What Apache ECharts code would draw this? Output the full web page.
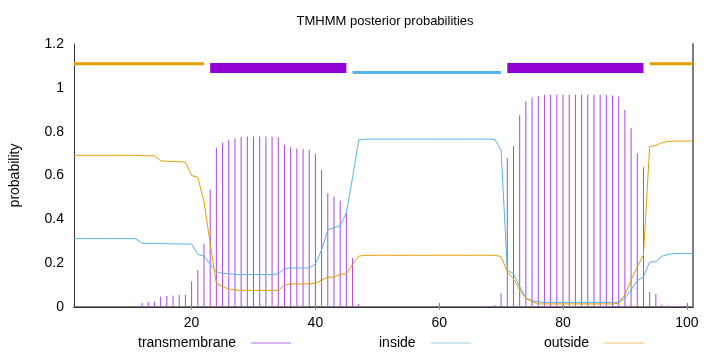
<!DOCTYPE html>
<html>
<head>
    <meta charset="UTF-8">
    <title>TMHMM posterior probabilities</title>
    <style>
        html, body {
            margin: 0;
            padding: 0;
            background: #fff;
        }
        #chart-container {
            width: 720px;
            height: 352px;
        }
    </style>
</head>
<body>
<div id="chart-container"></div>

<script src="https://cdn.jsdelivr.net/npm/echarts@6.0.0/dist/echarts.min.js"></script>
<script>
    // residue positions 1..101
    const positions = [];
    for (let i = 1; i <= 101; i++) positions.push(i);

    // posterior probability per residue
    const transmembrane = [
        0, 0, 0, 0, 0, 0, 0, 0, 0, 0.002,
        0.004, 0.018, 0.023, 0.024, 0.047, 0.05, 0.052, 0.055, 0.056, 0.117,
        0.169, 0.289, 0.537, 0.726, 0.75, 0.763, 0.77, 0.776, 0.778, 0.778,
        0.778, 0.778, 0.778, 0.773, 0.738, 0.729, 0.723, 0.721, 0.718, 0.699,
        0.626, 0.519, 0.504, 0.485, 0.428, 0.222, 0.014, 0, 0, 0,
        0, 0, 0, 0, 0, 0, 0, 0, 0, 0,
        0, 0, 0, 0, 0, 0, 0.003, 0.005, 0.009, 0.063,
        0.679, 0.735, 0.875, 0.939, 0.956, 0.963, 0.968, 0.968, 0.968, 0.968,
        0.968, 0.968, 0.968, 0.968, 0.968, 0.968, 0.968, 0.965, 0.96, 0.9,
        0.816, 0.702, 0.638, 0.068, 0.059, 0.01, 0.007, 0.005, 0.004, 0.003,
        0.002
    ];
    const inside = [
        0.312, 0.312, 0.312, 0.312, 0.312, 0.312, 0.312, 0.312, 0.312, 0.312,
        0.311, 0.291, 0.29, 0.29, 0.289, 0.289, 0.288, 0.288, 0.287, 0.287,
        0.241, 0.232, 0.196, 0.161, 0.154, 0.152, 0.149, 0.148, 0.148, 0.148,
        0.148, 0.148, 0.148, 0.152, 0.174, 0.178, 0.178, 0.178, 0.178, 0.196,
        0.26, 0.352, 0.362, 0.37, 0.43, 0.59, 0.762, 0.766, 0.766, 0.766,
        0.766, 0.766, 0.766, 0.766, 0.766, 0.766, 0.766, 0.766, 0.766, 0.766,
        0.766, 0.766, 0.766, 0.766, 0.766, 0.766, 0.766, 0.766, 0.764, 0.714,
        0.169, 0.151, 0.093, 0.04, 0.029, 0.023, 0.021, 0.021, 0.021, 0.021,
        0.021, 0.021, 0.021, 0.021, 0.021, 0.021, 0.021, 0.021, 0.022, 0.04,
        0.078, 0.12, 0.138, 0.205, 0.207, 0.232, 0.24, 0.244, 0.244, 0.244,
        0.244
    ];
    const outside = [
        0.692, 0.692, 0.692, 0.692, 0.692, 0.692, 0.692, 0.692, 0.692, 0.692,
        0.692, 0.69, 0.69, 0.69, 0.667, 0.665, 0.664, 0.663, 0.661, 0.6,
        0.592, 0.481, 0.29, 0.108, 0.093, 0.082, 0.078, 0.076, 0.076, 0.076,
        0.076, 0.076, 0.076, 0.076, 0.1, 0.105, 0.105, 0.105, 0.106, 0.108,
        0.123, 0.136, 0.136, 0.149, 0.151, 0.195, 0.232, 0.236, 0.236, 0.236,
        0.236, 0.236, 0.236, 0.236, 0.236, 0.236, 0.236, 0.236, 0.236, 0.236,
        0.236, 0.236, 0.236, 0.236, 0.236, 0.236, 0.236, 0.236, 0.236, 0.23,
        0.161, 0.128, 0.078, 0.04, 0.024, 0.014, 0.014, 0.014, 0.014, 0.014,
        0.014, 0.014, 0.014, 0.014, 0.014, 0.014, 0.014, 0.014, 0.017, 0.055,
        0.123, 0.184, 0.237, 0.732, 0.737, 0.75, 0.755, 0.757, 0.757, 0.757,
        0.757
    ];

    // predicted topology segments [start, end]
    const outsideSegs = [[1, 22], [94, 101]];
    const tmSegs = [[23, 45], [71, 93]];
    const insideSegs = [[46, 70]];

    const xTicks = [20, 40, 60, 80, 100];

    const PURPLE = '#9400d3';
    const BLUE = '#56b4e9';
    const ORANGE = '#e69f00';
    const FONT = 'Liberation Sans';

    const chart = echarts.init(document.getElementById('chart-container'));

    function pairs(values) {
        return positions.map((p, i) => [p, values[i]]);
    }

    // one line series per topology segment, drawn above the plot
    function segSeries(segs, y, color, width) {
        return segs.map((s, k) => ({
            name: 'seg' + color + k,
            type: 'line',
            data: [[s[0], y], [s[1], y]],
            showSymbol: false,
            silent: true,
            lineStyle: { color: color, width: width, cap: 'butt' },
            z: 5
        }));
    }

    function legendAt(name, left, color) {
        return {
            data: [{ name: name, itemStyle: { color: color } }],
            left: left,
            top: 331,
            align: 'right',
            icon: 'rect',
            itemWidth: 40,
            itemHeight: 1,
            itemGap: 0,
            textStyle: { fontFamily: FONT, fontSize: 14, color: '#000', padding: [0, 10, 0, 0] }
        };
    }

    const option = {
        backgroundColor: '#fff',
        animation: false,
        title: {
            text: 'TMHMM posterior probabilities',
            left: 380,
            textAlign: 'center',
            top: 10,
            textStyle: { fontFamily: FONT, fontSize: 13, fontWeight: 'normal', color: '#000' }
        },
        legend: [
            legendAt('transmembrane', 133, '#b070e0'),
            legendAt('inside', 374, '#a0d0ea'),
            legendAt('outside', 539, '#f0c070')
        ],
        grid: { left: 73, right: 27, top: 44, bottom: 45 },
        xAxis: [{
            type: 'value',
            min: 1,
            max: 101,
            axisLine: { lineStyle: { color: '#7f7f7f', width: 2 } },
            axisTick: { inside: true, length: 4, customValues: xTicks, lineStyle: { color: '#7f7f7f' } },
            axisLabel: { customValues: xTicks, fontFamily: FONT, fontSize: 14, color: '#000', margin: 9 },
            splitLine: { show: false }
        }, {
            type: 'value',
            position: 'top',
            min: 1,
            max: 101,
            axisLine: { lineStyle: { color: '#333', width: 1 } },
            axisTick: { inside: true, length: 3, customValues: xTicks, lineStyle: { color: '#999' } },
            axisLabel: { show: false },
            splitLine: { show: false }
        }],
        yAxis: [{
            type: 'value',
            name: 'probability',
            nameLocation: 'middle',
            nameGap: 52,
            nameTextStyle: { fontFamily: FONT, fontSize: 14, color: '#000' },
            min: 0,
            max: 1.2,
            interval: 0.2,
            axisLine: { show: true, lineStyle: { color: '#333', width: 1 } },
            axisTick: { show: false },
            axisLabel: { fontFamily: FONT, fontSize: 14, color: '#000', margin: 10 },
            splitLine: { show: false }
        }, {
            type: 'value',
            position: 'right',
            min: 0,
            max: 1.2,
            interval: 0.2,
            axisLine: { show: true, lineStyle: { color: '#7f7f7f', width: 2 } },
            axisTick: { show: false },
            axisLabel: { show: false },
            splitLine: { show: false }
        }],
        series: [
            {
                name: 'transmembrane',
                type: 'bar',
                data: pairs(transmembrane),
                barWidth: 1,
                itemStyle: { color: '#a848e0' },
                z: 1
            },
            {
                name: 'inside',
                type: 'line',
                data: pairs(inside),
                showSymbol: false,
                lineStyle: { color: BLUE, width: 1 },
                itemStyle: { color: BLUE },
                z: 2
            },
            {
                name: 'outside',
                type: 'line',
                data: pairs(outside),
                showSymbol: false,
                lineStyle: { color: ORANGE, width: 1 },
                itemStyle: { color: ORANGE },
                z: 3
            }
        ]
            .concat(segSeries(outsideSegs, 1.11, ORANGE, 3))
            .concat(segSeries(tmSegs, 1.09, PURPLE, 10))
            .concat(segSeries(insideSegs, 1.07, BLUE, 3))
    };

    chart.setOption(option);
</script>
</body>
</html>
